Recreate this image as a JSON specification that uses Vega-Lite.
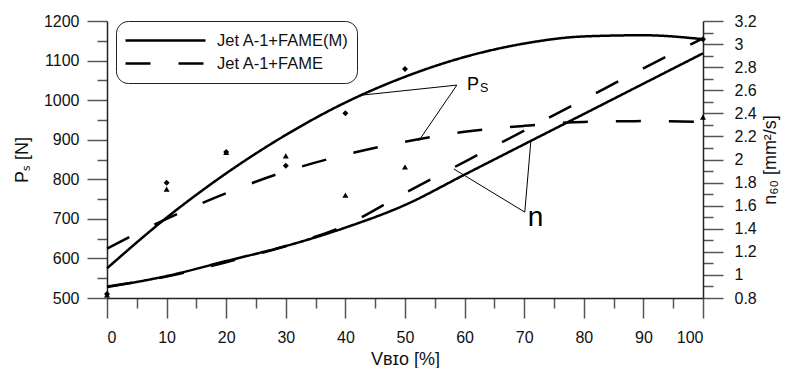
{
 "$schema": "https://vega.github.io/schema/vega-lite/v6.json",
 "width": 596,
 "height": 277,
 "autosize": {"type": "none"},
 "padding": {"left": 107, "top": 21, "right": 86, "bottom": 70},
 "background": "white",
 "config": {
  "font": "Liberation Sans",
  "view": {"stroke": null},
  "axis": {"grid": false, "labelOverlap": false, "domainColor": "#222", "domainWidth": 1.5, "tickColor": "#555", "tickWidth": 1.5, "labelColor": "#111", "labelFontSize": 16, "titleFontSize": 18, "titleFontWeight": "normal", "titleColor": "#111", "labelFont": "Liberation Sans", "titleFont": "Liberation Sans"}
 },
 "datasets": {
  "ps_curves": [
   {"v": 0, "series": "Jet A-1+FAME(M)", "ps": 575}, {"v": 10, "series": "Jet A-1+FAME(M)", "ps": 703}, {"v": 20, "series": "Jet A-1+FAME(M)", "ps": 815}, {"v": 30, "series": "Jet A-1+FAME(M)", "ps": 912}, {"v": 40, "series": "Jet A-1+FAME(M)", "ps": 994}, {"v": 50, "series": "Jet A-1+FAME(M)", "ps": 1059}, {"v": 60, "series": "Jet A-1+FAME(M)", "ps": 1109}, {"v": 70, "series": "Jet A-1+FAME(M)", "ps": 1143}, {"v": 80, "series": "Jet A-1+FAME(M)", "ps": 1161}, {"v": 90, "series": "Jet A-1+FAME(M)", "ps": 1164}, {"v": 100, "series": "Jet A-1+FAME(M)", "ps": 1154},
   {"v": 0, "series": "Jet A-1+FAME", "ps": 625}, {"v": 10, "series": "Jet A-1+FAME", "ps": 700}, {"v": 20, "series": "Jet A-1+FAME", "ps": 765}, {"v": 30, "series": "Jet A-1+FAME", "ps": 820}, {"v": 40, "series": "Jet A-1+FAME", "ps": 862}, {"v": 50, "series": "Jet A-1+FAME", "ps": 895}, {"v": 60, "series": "Jet A-1+FAME", "ps": 920}, {"v": 70, "series": "Jet A-1+FAME", "ps": 935}, {"v": 80, "series": "Jet A-1+FAME", "ps": 945}, {"v": 90, "series": "Jet A-1+FAME", "ps": 947}, {"v": 100, "series": "Jet A-1+FAME", "ps": 945}
  ],
  "ps_points": [
   {"v": 0, "kind": "M", "ps": 510}, {"v": 10, "kind": "M", "ps": 791}, {"v": 20, "kind": "M", "ps": 869}, {"v": 30, "kind": "M", "ps": 834}, {"v": 40, "kind": "M", "ps": 967}, {"v": 50, "kind": "M", "ps": 1079}, {"v": 100, "kind": "M", "ps": 1154},
   {"v": 0, "kind": "F", "ps": 508}, {"v": 10, "kind": "F", "ps": 775}, {"v": 20, "kind": "F", "ps": 868}, {"v": 30, "kind": "F", "ps": 859}, {"v": 40, "kind": "F", "ps": 760}, {"v": 50, "kind": "F", "ps": 831}, {"v": 100, "kind": "F", "ps": 957}
  ],
  "n_curves": [
   {"v": 0, "series": "Jet A-1+FAME(M)", "n": 0.895}, {"v": 10, "series": "Jet A-1+FAME(M)", "n": 0.99}, {"v": 20, "series": "Jet A-1+FAME(M)", "n": 1.12}, {"v": 30, "series": "Jet A-1+FAME(M)", "n": 1.25}, {"v": 40, "series": "Jet A-1+FAME(M)", "n": 1.41}, {"v": 50, "series": "Jet A-1+FAME(M)", "n": 1.606}, {"v": 60, "series": "Jet A-1+FAME(M)", "n": 1.869}, {"v": 70, "series": "Jet A-1+FAME(M)", "n": 2.132}, {"v": 80, "series": "Jet A-1+FAME(M)", "n": 2.394}, {"v": 90, "series": "Jet A-1+FAME(M)", "n": 2.657}, {"v": 100, "series": "Jet A-1+FAME(M)", "n": 2.92},
   {"v": 0, "series": "Jet A-1+FAME", "n": 0.9}, {"v": 10, "series": "Jet A-1+FAME", "n": 0.985}, {"v": 20, "series": "Jet A-1+FAME", "n": 1.11}, {"v": 30, "series": "Jet A-1+FAME", "n": 1.25}, {"v": 40, "series": "Jet A-1+FAME", "n": 1.43}, {"v": 50, "series": "Jet A-1+FAME", "n": 1.71}, {"v": 60, "series": "Jet A-1+FAME", "n": 1.98}, {"v": 70, "series": "Jet A-1+FAME", "n": 2.25}, {"v": 80, "series": "Jet A-1+FAME", "n": 2.52}, {"v": 90, "series": "Jet A-1+FAME", "n": 2.79}, {"v": 100, "series": "Jet A-1+FAME", "n": 3.05}
  ],
  "leaders": [
   {"v": 43, "ps": 1013, "v2": 58.7, "ps2": 1038},
   {"v": 58.7, "ps": 1038, "v2": 52.3, "ps2": 897},
   {"v": 70.1, "ps": 717, "v2": 58.2, "ps2": 826},
   {"v": 70.1, "ps": 717, "v2": 71.1, "ps2": 894}
  ]
 },
 "encoding": {
  "x": {
   "field": "v", "type": "quantitative",
   "scale": {"domain": [0, 100], "nice": false},
   "axis": {
    "title": "Vʙɪᴏ [%]",
    "labelOverlap": false,
    "tickCount": 100,
    "values": [0, 5, 10, 15, 20, 25, 30, 35, 40, 45, 50, 55, 60, 65, 70, 75, 80, 85, 90, 95, 100],
    "labelExpr": "datum.value % 10 === 0 ? datum.label : ''",
    "tickSize": {"condition": {"test": "datum.value % 10 === 0", "value": 20}, "value": 10},
    "labelPadding": 11,
    "titlePadding": 5
   }
  }
 },
 "layer": [
  {
   "layer": [
    {
     "data": {"name": "ps_curves"},
     "mark": {"type": "line", "interpolate": "monotone", "color": "black", "strokeWidth": 2.5},
     "encoding": {
      "y": {
       "field": "ps", "type": "quantitative",
       "scale": {"domain": [500, 1200], "nice": false},
       "axis": {
        "title": "Pₛ [N]",
        "labelOverlap": false,
        "tickCount": 100,
        "values": [500, 550, 600, 650, 700, 750, 800, 850, 900, 950, 1000, 1050, 1100, 1150, 1200],
        "labelExpr": "datum.value % 100 === 0 ? datum.label : ''",
        "format": "d",
        "tickSize": {"condition": {"test": "datum.value % 100 === 0", "value": 20}, "value": 10},
        "labelPadding": 8,
        "titlePadding": 12
       }
      },
      "strokeDash": {
       "field": "series", "type": "nominal",
       "scale": {"domain": ["Jet A-1+FAME(M)", "Jet A-1+FAME"], "range": [[1, 0], [25, 28]]},
       "legend": {"title": null, "orient": "none", "legendX": 9, "legendY": 0, "symbolType": "stroke", "symbolSize": 6400, "symbolStrokeWidth": 2.5, "symbolStrokeColor": "black", "clipHeight": 23, "rowPadding": 0, "labelFontSize": 16.5, "labelOffset": 10, "padding": 8, "strokeColor": "#222", "cornerRadius": 12, "fillColor": "white", "labelColor": "#111", "labelLimit": 300}
      }
     }
    },
    {
     "data": {"name": "ps_points"},
     "mark": {"type": "point", "filled": true, "color": "black", "size": 36, "opacity": 1},
     "encoding": {
      "y": {"field": "ps", "type": "quantitative"},
      "shape": {"field": "kind", "type": "nominal", "scale": {"domain": ["M", "F"], "range": ["diamond", "triangle-up"]}, "legend": null}
     }
    },
    {
     "data": {"name": "leaders"},
     "mark": {"type": "rule", "color": "black", "strokeWidth": 1},
     "encoding": {
      "y": {"field": "ps", "type": "quantitative"},
      "x2": {"field": "v2"},
      "y2": {"field": "ps2"}
     }
    },
    {
     "data": {"values": [{"v": 60.4, "ps": 1025.6, "t": "P"}]},
     "mark": {"type": "text", "align": "left", "baseline": "alphabetic", "fontSize": 18, "color": "black"},
     "encoding": {"y": {"field": "ps", "type": "quantitative"}, "text": {"field": "t"}}
    },
    {
     "data": {"values": [{"v": 60.4, "ps": 1025.6, "t": "S"}]},
     "mark": {"type": "text", "align": "left", "baseline": "alphabetic", "fontSize": 12.5, "dx": 13, "dy": 2, "color": "black"},
     "encoding": {"y": {"field": "ps", "type": "quantitative"}, "text": {"field": "t"}}
    },
    {
     "data": {"values": [{"v": 70.6, "ps": 682, "t": "n"}]},
     "mark": {"type": "text", "align": "left", "baseline": "alphabetic", "fontSize": 28, "color": "black"},
     "encoding": {"y": {"field": "ps", "type": "quantitative"}, "text": {"field": "t"}}
    }
   ]
  },
  {
   "data": {"name": "n_curves"},
   "mark": {"type": "line", "interpolate": "monotone", "color": "black", "strokeWidth": 2.5},
   "encoding": {
    "y": {
     "field": "n", "type": "quantitative",
     "scale": {"domain": [0.8, 3.2], "nice": false},
     "axis": {
      "orient": "right",
      "title": "n₆₀ [mm²/s]",
      "titleAngle": 270,
      "titleBaseline": "top",
      "labelOverlap": false,
      "tickCount": 100,
      "values": [0.8, 0.9, 1, 1.1, 1.2, 1.3, 1.4, 1.5, 1.6, 1.7, 1.8, 1.9, 2, 2.1, 2.2, 2.3, 2.4, 2.5, 2.6, 2.7, 2.8, 2.9, 3, 3.1, 3.2],
      "labelExpr": "round(datum.value*10) % 2 === 0 ? toString(datum.value) : ''",
      "tickSize": {"condition": {"test": "round(datum.value*10) % 2 === 0", "value": 20}, "value": 10},
      "labelPadding": 11,
      "titlePadding": 5
     }
    },
    "strokeDash": {
     "field": "series", "type": "nominal",
     "scale": {"domain": ["Jet A-1+FAME(M)", "Jet A-1+FAME"], "range": [[1, 0], [25, 28]]},
     "legend": {"title": null, "orient": "none", "legendX": 9, "legendY": 0, "symbolType": "stroke", "symbolSize": 6400, "symbolStrokeWidth": 2.5, "symbolStrokeColor": "black", "clipHeight": 23, "rowPadding": 0, "labelFontSize": 16.5, "labelOffset": 10, "padding": 8, "strokeColor": "#222", "cornerRadius": 12, "fillColor": "white", "labelColor": "#111", "labelLimit": 300}
    }
   }
  }
 ],
 "resolve": {"scale": {"y": "independent"}}
}
